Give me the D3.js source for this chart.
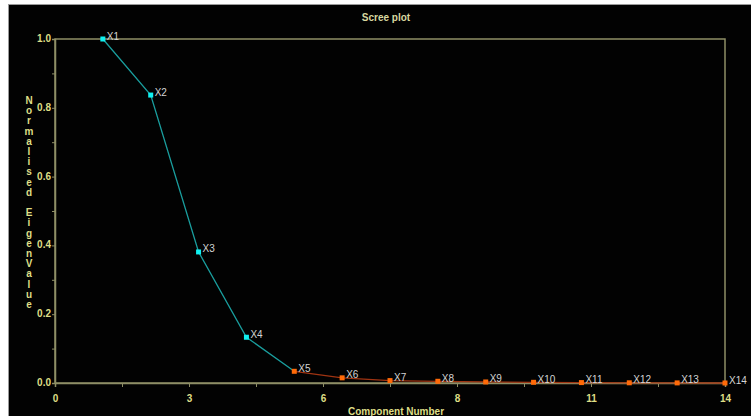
<!DOCTYPE html>
<html><head><meta charset="utf-8">
<script src="https://cdn.jsdelivr.net/npm/d3@7"></script>
<style>html,body{margin:0;padding:0;background:#fff;overflow:hidden}svg{display:block}</style>
</head><body>
<svg id="c" width="751" height="416"></svg>
<script>
const components = [1,2,3,4,5,6,7,8,9,10,11,12,13,14];
const labels = ["X1","X2","X3","X4","X5","X6","X7","X8","X9","X10","X11","X12","X13","X14"];
const eigenvalues = [1.0,0.837,0.381,0.133,0.034,0.015,0.007,0.005,0.003,0.002,0.0012,0.0006,0.0003,0.0];
const retained = 5; // first components drawn in cyan (through X5 the line stays teal)
const xTickValues = [0,1.4,2.8,4.2,5.6,7,8.4,9.8,11.2,12.6,14];
const xTickLabels = ["0","","3","","6","","8","","11","","14"];
const yTickValues = [0,0.1,0.2,0.3,0.4,0.5,0.6,0.7,0.8,0.9,1.0];
const yTickLabels = ["0.0","","0.2","","0.4","","0.6","","0.8","","1.0"];

const svg = d3.select("#c");
const W = 751, H = 416;
const axisCol = "#8e8e66", tickCol = "#dede86", font = "'Liberation Sans', Arial, sans-serif";

// outer frame: white border at left/top, black panel
svg.append("rect").attr("x",0).attr("y",0).attr("width",W).attr("height",H).attr("fill","#fff");
svg.append("rect").attr("x",8).attr("y",4).attr("width",W-8).attr("height",H-4).attr("fill","#020202");
svg.append("line").attr("x1",8).attr("x2",W).attr("y1",4.5).attr("y2",4.5).attr("stroke","#9a9a9a");
svg.append("line").attr("x1",8.5).attr("x2",8.5).attr("y1",4).attr("y2",H).attr("stroke","#9a9a9a");

const x = d3.scaleLinear().domain([0,14]).range([55,725]);
const y = d3.scaleLinear().domain([0,1]).range([383,39]);

// plot box
svg.append("rect").attr("x",x(0)).attr("y",y(1)).attr("width",x(14)-x(0)).attr("height",y(0)-y(1))
  .attr("fill","none").attr("stroke",axisCol).attr("stroke-width",1.5);

const xAxis = d3.axisBottom(x).tickValues(xTickValues).tickSize(4)
  .tickFormat((d,i)=>xTickLabels[i]);
const gx = svg.append("g").attr("transform",`translate(0,${y(0)})`).call(xAxis);
const yAxis = d3.axisLeft(y).tickValues(yTickValues).tickSize(3).tickPadding(1)
  .tickFormat((d,i)=>yTickLabels[i]);
const gy = svg.append("g").attr("transform",`translate(${x(0)},0)`).call(yAxis);
[gx,gy].forEach(g=>{
  g.select(".domain").attr("stroke",axisCol).attr("stroke-width",1.5);
  g.selectAll(".tick line").attr("stroke",axisCol).attr("stroke-width",1);
  g.selectAll(".tick text").attr("fill",tickCol).attr("font-family",font)
    .attr("font-weight","bold").attr("font-size","10px");
});
gx.selectAll(".tick text").attr("dy","1.2em");
gy.selectAll(".tick text").attr("dy","0.25em");

// title & axis titles
svg.append("text").attr("x",386).attr("y",21).attr("text-anchor","middle")
  .attr("fill","#d8d8a0").attr("font-family",font).attr("font-weight","bold").attr("font-size","10px").text("Scree plot");
svg.append("text").attr("x",396).attr("y",415).attr("text-anchor","middle")
  .attr("fill",tickCol).attr("font-family",font).attr("font-weight","bold").attr("font-size","10px").text("Component Number");
const yTitle = "Normalised EigenValue".split("");
svg.append("g").selectAll("text").data(yTitle).join("text")
  .attr("x",29).attr("y",(d,i)=>104+i*10.2).attr("text-anchor","middle")
  .attr("fill",tickCol).attr("font-family",font).attr("font-weight","bold").attr("font-size","10px").text(d=>d);

const pts = components.map((c,i)=>({c, v:eigenvalues[i], l:labels[i], i}));
const line = d3.line().x(d=>x(d.c)).y(d=>y(d.v));
svg.append("path").datum(pts.slice(retained-1)).attr("d",line)
  .attr("fill","none").attr("stroke","#a03412").attr("stroke-width",1.3);
svg.append("path").datum(pts.slice(0,retained)).attr("d",line)
  .attr("fill","none").attr("stroke","#1a9e9e").attr("stroke-width",1.3);

svg.append("g").selectAll("rect").data(pts).join("rect")
  .attr("x",d=>x(d.c)-2.5).attr("y",d=>y(d.v)-2.5).attr("width",5).attr("height",5)
  .attr("fill",d=>d.i<retained-1?"#10f0f0":"#ff6a08");
svg.append("g").selectAll("text").data(pts).join("text")
  .attr("x",d=>x(d.c)+4).attr("y",d=>y(d.v)+0.5)
  .attr("fill","#d4d4d4").attr("font-family",font).attr("font-size","10px").text(d=>d.l);
</script>
</body></html>
